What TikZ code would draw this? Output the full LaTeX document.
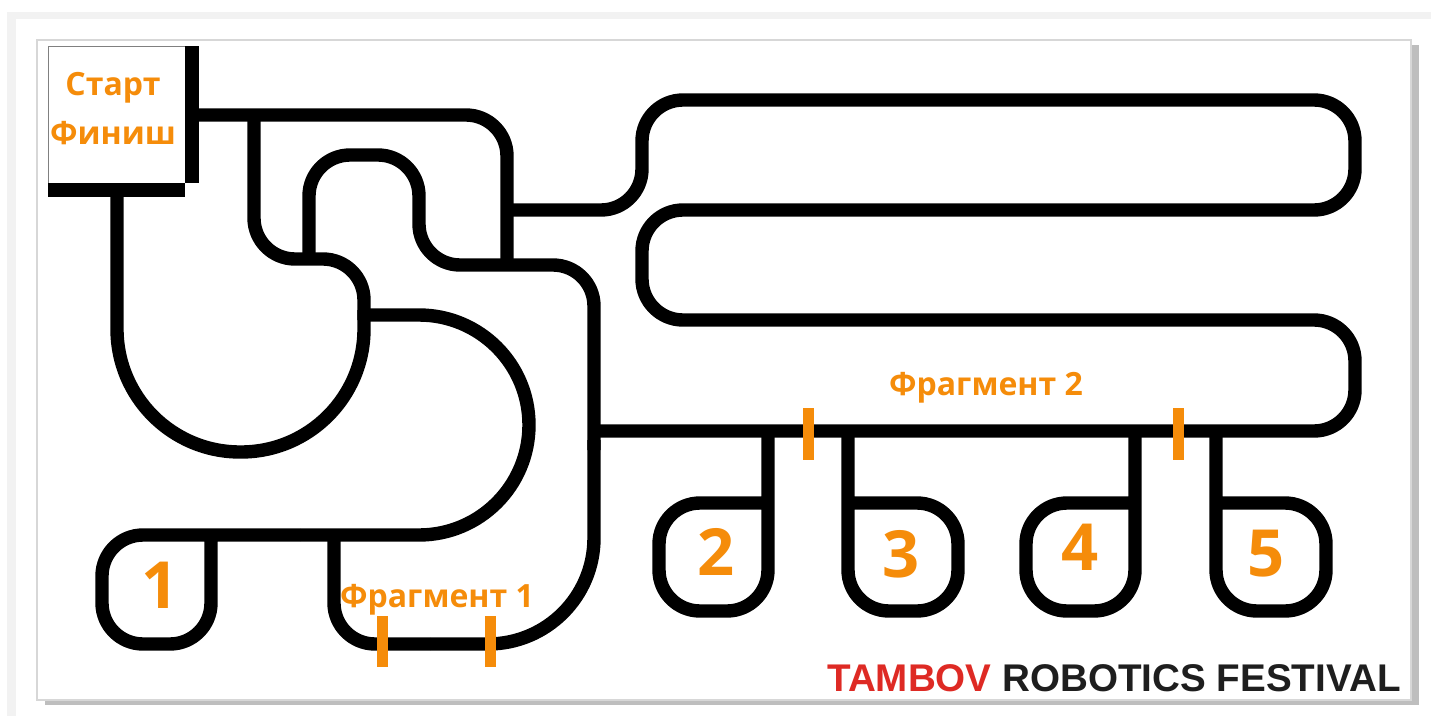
\documentclass[tikz,border=0pt]{standalone}
\usepackage{fontspec}
\setmainfont{Open Sans}
\newfontfamily\logofont{Liberation Sans}
\usepackage{xcolor}
\definecolor{accent}{RGB}{245,140,10}
\definecolor{logored}{RGB}{222,42,36}
\definecolor{logoblack}{RGB}{30,30,30}
\definecolor{panelgray}{RGB}{242,242,242}
\definecolor{bordergray}{RGB}{215,215,215}
\definecolor{shadowgray}{RGB}{190,190,190}
\tikzset{
  track/.style={line width=6.7pt, black},
  gatebar/.style={line width=5.5pt, accent},
  tag/.style={accent, font=\bfseries\fontsize{16}{18}\selectfont, inner sep=0pt},
  lobetag/.style={accent, font=\bfseries\fontsize{32.5}{34}\selectfont, inner sep=0pt},
  curve/.style={rounded corners=20.5pt}
}

\begin{document}
\begin{tikzpicture}[x=.5pt, y=-.5pt]
  \useasboundingbox (0,0) rectangle (1432,718);
  \fill[white] (0,0) rectangle (1432,718);
  \fill[panelgray] (7,12) rectangle (1431,19);
  \fill[panelgray] (7,12) rectangle (16,716);
  \fill[shadowgray] (45,45) rectangle (1419,705);
  \draw[bordergray, fill=white, line width=1pt] (37,40) rectangle (1411,700);

  \draw[gray, line width=.5pt] (48,183) -- (48,46) -- (185,46);
  \fill[black] (185,46) rectangle (199,183);
  \fill[black] (48,183) rectangle (185,197);
  \node[tag] (start) at (113,88) {Старт};
  \node[tag] (finish) at (113,133) {Финиш};

  \draw[track, rounded corners=61.5pt] (117,190) -- (117,452) -- (364,452) -- (364,310);
  \draw[track, curve] (254,115) -- (254,259) -- (364,259) -- (364,320);
  \draw[track, curve] (199,115) -- (507,115) -- (507,265);
  \draw[track, curve] (309,262) -- (309,155) -- (419,155) -- (419,265) -- (594,265) -- (594,450);
  \draw[track, rounded corners=53pt] (594,440) -- (594,644) -- (430,644);
  \draw[track, curve] (430,644) -- (334,644) -- (334,530);
  \draw[track, rounded corners=55pt] (364,315) -- (529,315) -- (529,535) -- (300,535);
  \draw[track, curve] (300,535) -- (102,535) -- (102,644) -- (211,644) -- (211,530);
  \draw[track, curve] (594,431) -- (1355,431) -- (1355,320) -- (642,320) -- (642,210)
        -- (1355,210) -- (1355,100) -- (642,100) -- (642,210) -- (507,210);

  \draw[track, curve] (768,425) -- (768,611) -- (659,611) -- (659,503) -- (768,503);
  \draw[track, curve] (848,425) -- (848,611) -- (958,611) -- (958,503) -- (848,503);
  \draw[track, curve] (1135,425) -- (1135,611) -- (1026,611) -- (1026,503) -- (1135,503);
  \draw[track, curve] (1216,425) -- (1216,611) -- (1326,611) -- (1326,503) -- (1216,503);

  \draw[gatebar] (382,616) -- (382,667);
  \draw[gatebar] (490,616) -- (490,667);
  \draw[gatebar] (808,408) -- (808,460);
  \draw[gatebar] (1178,408) -- (1178,460);

  \node[tag] (fragone) at (437,600) {Фрагмент 1};
  \node[tag] (fragtwo) at (986,388) {Фрагмент 2};
  \node[lobetag] (lobeone) at (160,585) {1};
  \node[lobetag] (lobetwo) at (716,552) {2};
  \node[lobetag] (lobethree) at (901,554) {3};
  \node[lobetag] (lobefour) at (1080,547) {4};
  \node[lobetag] (lobefive) at (1266,554) {5};

  \node[anchor=base east, inner sep=0pt, font=\logofont\bfseries\fontsize{19.3}{21}\selectfont] (logo)
        at (1401,691) {\textcolor{logored}{TAMBOV} \textcolor{logoblack}{ROBOTICS FESTIVAL}};
\end{tikzpicture}
\end{document}
